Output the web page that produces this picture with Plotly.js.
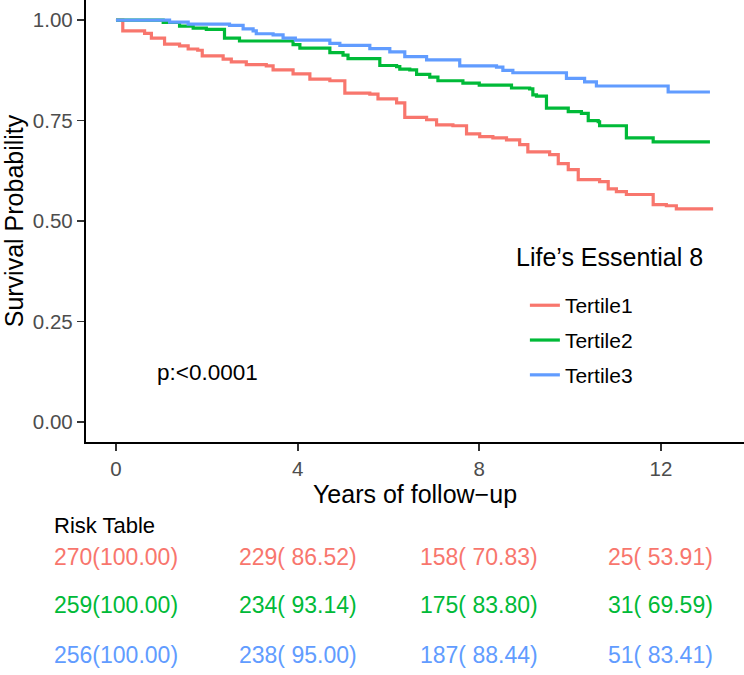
<!DOCTYPE html>
<html>
<head>
<meta charset="utf-8">
<script src="https://cdn.plot.ly/plotly-3.0.1.min.js"></script>
<style>
  body { margin: 0; background: #fff; }
  #km { width: 744px; height: 675px; }
</style>
</head>
<body>
<div id="km"></div>
<script>
// Kaplan-Meier curves (years, survival)
var t1Time = [0, 0.15, 0.63, 0.78, 1.07, 1.4, 1.59, 1.8, 1.9, 2.36, 2.54, 2.87, 3.31, 3.46, 3.9, 4.27, 4.71, 5.04, 5.59, 5.77, 6.18, 6.36, 6.84, 7.06, 7.42, 7.72, 8.01, 8.3, 8.6, 8.89, 9.07, 9.55, 9.74, 9.96, 10.18, 10.65, 10.84, 11.02, 11.24, 11.83, 12.12, 12.34, 13.15];
var t1Surv = [1, 0.973, 0.967, 0.955, 0.94, 0.936, 0.928, 0.925, 0.911, 0.903, 0.896, 0.889, 0.886, 0.876, 0.866, 0.853, 0.849, 0.818, 0.816, 0.804, 0.794, 0.758, 0.752, 0.739, 0.737, 0.717, 0.71, 0.707, 0.702, 0.69, 0.672, 0.665, 0.643, 0.628, 0.603, 0.598, 0.58, 0.573, 0.566, 0.541, 0.538, 0.53, 0.53];

var t2Time = [0, 1.04, 1.4, 1.7, 1.99, 2.39, 2.72, 3.9, 4.05, 4.71, 5.0, 5.11, 5.81, 6.18, 6.25, 6.47, 6.62, 6.91, 7.09, 7.64, 8.0, 8.71, 9.11, 9.18, 9.26, 9.48, 9.96, 10.25, 10.4, 10.62, 10.65, 11.24, 11.83, 13.08];
var t2Surv = [1, 0.994, 0.985, 0.98, 0.977, 0.955, 0.948, 0.939, 0.93, 0.919, 0.913, 0.904, 0.887, 0.884, 0.878, 0.876, 0.865, 0.858, 0.849, 0.843, 0.838, 0.831, 0.829, 0.814, 0.811, 0.781, 0.772, 0.768, 0.75, 0.747, 0.737, 0.707, 0.697, 0.697];

var t3Time = [0, 1.18, 1.59, 2.5, 2.8, 3.02, 3.09, 3.46, 3.68, 3.95, 4.71, 4.93, 5.59, 6.03, 6.36, 6.84, 7.57, 8.38, 8.52, 8.74, 9.92, 10.32, 10.58, 12.16, 13.08];
var t3Surv = [1, 0.995, 0.99, 0.987, 0.978, 0.973, 0.966, 0.963, 0.955, 0.95, 0.942, 0.937, 0.929, 0.921, 0.909, 0.901, 0.886, 0.883, 0.875, 0.869, 0.855, 0.846, 0.836, 0.821, 0.821];

var groupNames = ['Tertile1', 'Tertile2', 'Tertile3'];
var groupColors = ['#F8766D', '#00BA38', '#619CFF'];

// risk table: number at risk and survival (%) at each time point
var riskTimes = [0, 4, 8, 12];
var risk1N = [270, 229, 158, 25];
var risk1P = [100.00, 86.52, 70.83, 53.91];
var risk2N = [259, 234, 175, 31];
var risk2P = [100.00, 93.14, 83.80, 69.59];
var risk3N = [256, 238, 187, 51];
var risk3P = [100.00, 95.00, 88.44, 83.41];

var font = 'Liberation Sans, Arial, sans-serif';

function kmTrace(x, y, i) {
  return {
    x: x, y: y,
    mode: 'lines',
    name: groupNames[i],
    legendgroup: 'g' + i,
    line: {color: groupColors[i], width: 3.2, shape: 'hv'},
    hoverinfo: 'skip'
  };
}

var data = [
  kmTrace(t1Time, t1Surv, 0),
  kmTrace(t2Time, t2Surv, 1),
  kmTrace(t3Time, t3Surv, 2)
];

function fmt(n, p) {
  var s = p.toFixed(2);
  while (s.length < 6) s = ' ' + s;
  return n + '(' + s + ')';
}

var annotations = [{
  text: 'p:<0.0001',
  xref: 'x', yref: 'y', x: 0.86, y: 0.124,
  xanchor: 'left', yanchor: 'middle', showarrow: false,
  font: {family: font, size: 22.5, color: '#000'}
}, {
  // legend title
  text: 'Life’s Essential 8',
  xref: 'paper', yref: 'paper', x: 0.651, y: 0.4185,
  xanchor: 'left', yanchor: 'middle', showarrow: false,
  font: {family: font, size: 25, color: '#000'}
}, {
  text: 'Risk Table',
  xref: 'paper', yref: 'paper', x: -0.052, y: -0.188,
  xanchor: 'left', yanchor: 'middle', showarrow: false,
  font: {family: font, size: 22, color: '#000'}
}];

var riskRows = [[risk1N, risk1P], [risk2N, risk2P], [risk3N, risk3P]];
var rowY = [-0.26, -0.369, -0.482];
riskRows.forEach(function (row, r) {
  riskTimes.forEach(function (t, k) {
    annotations.push({
      text: fmt(row[0][k], row[1][k]),
      xref: 'x', yref: 'paper', x: t, y: rowY[r],
      xanchor: 'center', yanchor: 'middle', showarrow: false,
      font: {family: font, size: 23, color: groupColors[r]}
    });
  });
});

var layout = {
  width: 744, height: 675,
  margin: {l: 86, r: 0, t: 0, b: 233},
  paper_bgcolor: '#fff', plot_bgcolor: '#fff',
  font: {family: font, color: '#000'},
  showlegend: true,
  legend: {
    x: 0.667, y: 0.355, xanchor: 'left', yanchor: 'top',
    font: {size: 21, color: '#000'},
    traceorder: 'grouped', tracegroupgap: 4.5,
    bgcolor: 'rgba(0,0,0,0)'
  },
  xaxis: {
    range: [-0.66, 13.83],
    tickvals: [0, 4, 8, 12],
    showgrid: false, zeroline: false,
    showline: true, linecolor: '#000', linewidth: 2.2,
    ticks: 'outside', ticklen: 7, tickwidth: 1.8, tickcolor: '#333',
    tickfont: {size: 20.5, color: '#4d4d4d'},
    title: {text: 'Years of follow\u2212up', font: {size: 25, color: '#000'}, standoff: 6}
  },
  yaxis: {
    range: [-0.05, 1.05],
    tickvals: [0, 0.25, 0.5, 0.75, 1],
    ticktext: ['0.00', '0.25', '0.50', '0.75', '1.00'],
    showgrid: false, zeroline: false,
    showline: true, linecolor: '#000', linewidth: 2.2,
    ticks: 'outside', ticklen: 7, tickwidth: 1.8, tickcolor: '#333',
    tickfont: {size: 20.5, color: '#4d4d4d'},
    title: {text: 'Survival Probability', font: {size: 25, color: '#000'}, standoff: 6}
  },
  annotations: annotations
};

Plotly.newPlot('km', data, layout, {displayModeBar: false, staticPlot: true});
</script>
</body>
</html>
